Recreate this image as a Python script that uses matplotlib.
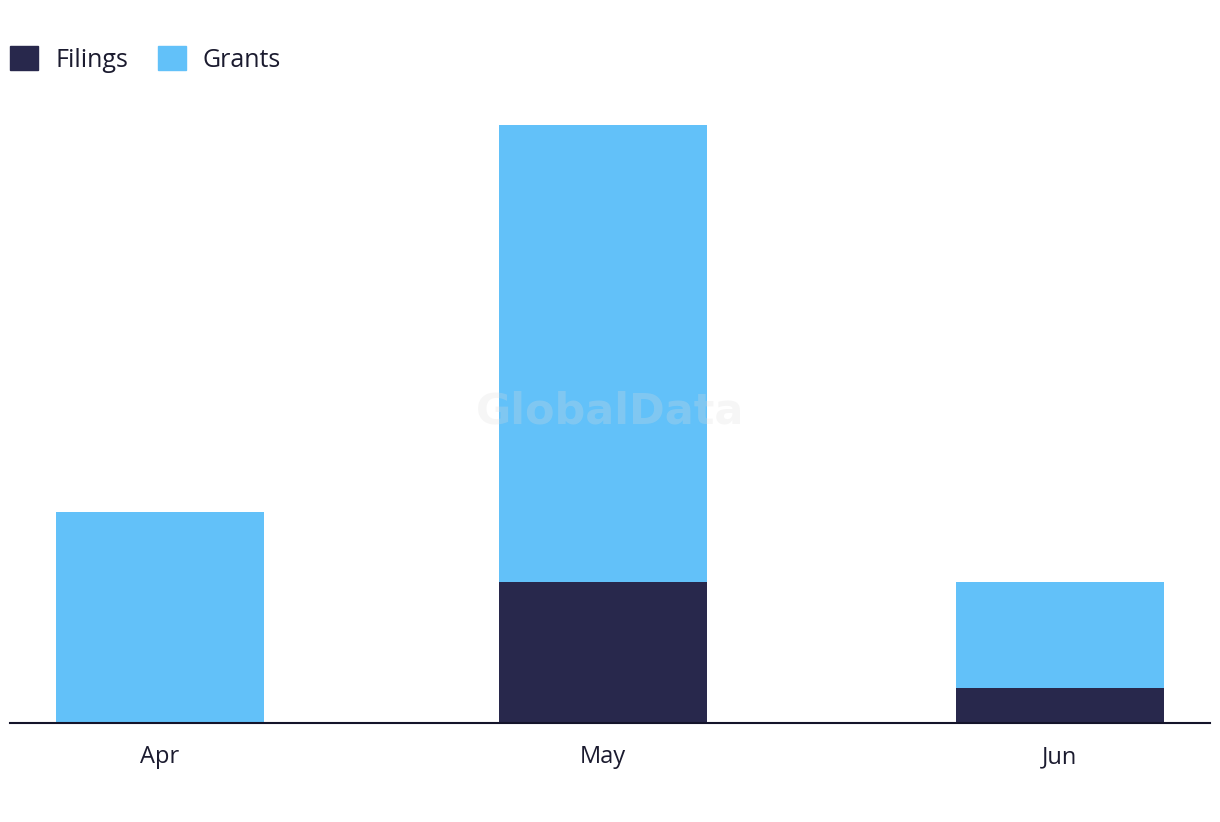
import matplotlib
matplotlib.use("Agg")
import matplotlib.pyplot as plt
import matplotlib.dates as mdates
from matplotlib.patches import Patch
import pandas as pd

months = ["2024-04-01", "2024-05-01", "2024-06-01"]
month_labels = ["Apr", "May", "Jun"]
filings = [0, 4, 1]
grants = [6, 13, 3]

COL_FIL = "#28284C"
COL_GR = "#62C1F9"
TXT = "#1B1B2F"

plt.rcParams["font.family"] = ["Open Sans", "DejaVu Sans"]

dates = pd.to_datetime(months)
x = mdates.date2num(dates)

fig = plt.figure(figsize=(12.2, 8.22), dpi=100)
ax = fig.add_axes([10 / 1220, 99 / 822, 1200 / 1220, 623 / 822])

bw = 14.1
ax.bar(x, filings, width=bw, color=COL_FIL, label="Filings", zorder=2)
ax.bar(x, grants, width=bw, bottom=filings, color=COL_GR, label="Grants", zorder=2)

ax.set_xlim(x[0] - 10.17, x[0] + 71.17)
ax.set_ylim(0, 17.7)

for s in ["top", "right", "left"]:
    ax.spines[s].set_visible(False)
ax.spines["bottom"].set_color("#14142A")
ax.spines["bottom"].set_linewidth(1.5)
ax.set_yticks([])
ax.set_xticks(x)
ax.set_xticklabels(month_labels, fontsize=17, color=TXT)
ax.tick_params(axis="x", length=0, pad=16)

ax.text(0.5, 0.5, "GlobalData", transform=ax.transAxes, ha="center", va="center",
        fontsize=31, fontweight="bold", color="#dcdcdc", alpha=0.25, zorder=3,
        family=["DejaVu Sans"])

handles = [Patch(color=COL_FIL, label="Filings"), Patch(color=COL_GR, label="Grants")]
fig.legend(handles=handles, loc="upper left", bbox_to_anchor=(10 / 1220, 1 - 46 / 822),
           ncol=2, frameon=False, fontsize=18, handlelength=1.12, handleheight=1.12,
           handletextpad=0.68, columnspacing=1.2, borderpad=0, borderaxespad=0,
           labelcolor=TXT)

fig.savefig("out.png", dpi=100)
